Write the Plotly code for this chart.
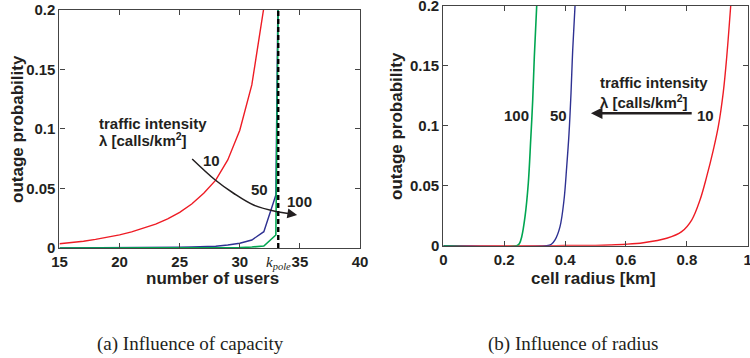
import plotly.graph_objects as go

# ---- (a) outage probability vs. number of users ----
users_red = list(range(15, 33))
out_users_10 = [0.0035, 0.0045, 0.0057, 0.0072, 0.009, 0.011, 0.0135, 0.0165, 0.020,
                0.0245, 0.030, 0.037, 0.046, 0.057, 0.074, 0.099, 0.137, 0.202]
users_50 = list(range(15, 35))
out_users_50 = [0.0, 0.0, 0.0, 0.0, 0.0001, 0.0001, 0.0002, 0.0003, 0.0004, 0.0005,
                0.0006, 0.0008, 0.001, 0.0015, 0.0025, 0.004, 0.0067, 0.0137, 0.0445, 1.0]
users_100 = list(range(15, 35))
out_users_100 = [0.0, 0.0, 0.0, 0.0, 0.0, 0.0, 0.0, 0.0, 0.0, 0.0,
                 0.0, 0.0, 0.0, 0.0, 0.0001, 0.0003, 0.0008, 0.0017, 0.0109, 1.0]
K_POLE = 33.2

# ---- (b) outage probability vs. cell radius ----
radius_10 = [0.0, 0.3, 0.4, 0.5, 0.5476, 0.6, 0.657, 0.734, 0.783, 0.816, 0.8433,
             0.8653, 0.887, 0.9034, 0.9198, 0.931, 0.9442]
out_radius_10 = [0.0, 0.0, 0.0001, 0.0003, 0.0006, 0.0012, 0.0025, 0.0062, 0.0117, 0.0214,
                 0.0381, 0.0576, 0.0798, 0.0993, 0.128, 0.157, 0.2]
radius_50 = [0.0, 0.3397, 0.355, 0.367, 0.3834, 0.3965, 0.4054, 0.413, 0.4195, 0.4251, 0.4327]
out_radius_50 = [0.0, 0.0, 0.0012, 0.0048, 0.0159, 0.0381, 0.0659, 0.0937, 0.127, 0.1633, 0.2]
radius_100 = [0.0, 0.241, 0.25, 0.2576, 0.2684, 0.2792, 0.2871, 0.2937, 0.299, 0.3068]
out_radius_100 = [0.0, 0.0, 0.0018, 0.0075, 0.0242, 0.0521, 0.0882, 0.1216, 0.1577, 0.2]

RED = "#ee1c25"
BLUE = "#2e3192"
GREEN = "#00a651"
INK = "#231f20"
SANS = "Liberation Sans, Arial, sans-serif"
SERIF = "Liberation Serif, Times New Roman, serif"

fig = go.Figure()

# panel (a)
fig.add_trace(go.Scatter(x=users_red, y=out_users_10, mode="lines",
                         line=dict(color=RED, width=1.4), xaxis="x", yaxis="y"))
fig.add_trace(go.Scatter(x=users_50, y=out_users_50, mode="lines",
                         line=dict(color=BLUE, width=1.4), xaxis="x", yaxis="y"))
fig.add_trace(go.Scatter(x=users_100, y=out_users_100, mode="lines",
                         line=dict(color=GREEN, width=1.6), xaxis="x", yaxis="y"))
fig.add_trace(go.Scatter(x=[K_POLE, K_POLE], y=[0, 0.2], mode="lines",
                         line=dict(color="black", width=2.4, dash="5px,3px"),
                         xaxis="x", yaxis="y"))
# curved arrow stem across the three curves
fig.add_trace(go.Scatter(x=[26.04, 27.96, 29.48, 31.15, 33.1],
                         y=[0.0748, 0.0571, 0.046, 0.0361, 0.0305],
                         mode="lines", line=dict(color=INK, width=1.5, shape="spline"),
                         xaxis="x", yaxis="y"))

# panel (b)
fig.add_trace(go.Scatter(x=radius_10, y=out_radius_10, mode="lines",
                         line=dict(color=RED, width=1.4, shape="spline"), xaxis="x2", yaxis="y2"))
fig.add_trace(go.Scatter(x=radius_50, y=out_radius_50, mode="lines",
                         line=dict(color=BLUE, width=1.4, shape="spline"), xaxis="x2", yaxis="y2"))
fig.add_trace(go.Scatter(x=radius_100, y=out_radius_100, mode="lines",
                         line=dict(color=GREEN, width=1.6, shape="spline"), xaxis="x2", yaxis="y2"))

axis_common = dict(
    showline=True, linecolor="#444", linewidth=1.2, mirror="ticks",
    ticks="inside", ticklen=5, tickcolor="#444", tickwidth=1.2,
    showgrid=False, zeroline=False, automargin=False, ticklabeloverflow="allow",
    tickfont=dict(family=SANS, size=15, color=INK, weight="bold"),
)

fig.update_layout(
    width=750, height=358,
    margin=dict(l=0, r=0, t=0, b=0, autoexpand=False),
    paper_bgcolor="white", plot_bgcolor="white",
    showlegend=False,
    xaxis=dict(axis_common, domain=[0.0793, 0.48], range=[15, 40],
               tickvals=[15, 20, 25, 30, 35, 40], anchor="y"),
    yaxis=dict(axis_common, domain=[0.3073, 0.9721], range=[0, 0.2],
               tickvals=[0, 0.05, 0.1, 0.15, 0.2], anchor="x"),
    xaxis2=dict(axis_common, domain=[0.5911, 0.9969], range=[0, 1],
                tickvals=[0, 0.2, 0.4, 0.6, 0.8, 1], anchor="y2"),
    yaxis2=dict(axis_common, domain=[0.3137, 0.9832], range=[0, 0.2],
                tickvals=[0, 0.05, 0.1, 0.15, 0.2], anchor="x2"),
)

bold15 = dict(family=SANS, size=15, color=INK, weight="bold")
title_font = dict(family=SANS, size=17, color=INK, weight="bold")
caption_font = dict(family=SERIF, size=19, color=INK)


def paper_text(px, py, text, font, angle=0):
    """Centered text placed by pixel position on the 750x358 page."""
    return dict(x=px / 750, y=1 - py / 358, xref="paper", yref="paper",
                xanchor="center", yanchor="middle", textangle=angle,
                text=text, font=font, showarrow=False)


ann = [
    # panel (a) labels
    dict(x=18.1, y=0.105, xref="x", yref="y", text="traffic intensity",
         xanchor="left", yanchor="middle", font=bold15, showarrow=False),
    dict(x=18.1, y=0.0908, xref="x", yref="y", text="λ [calls/km<sup>2</sup>]",
         xanchor="left", yanchor="middle", font=bold15, showarrow=False),
    dict(x=27.68, y=0.0731, xref="x", yref="y", text="10",
         font=bold15, showarrow=False),
    dict(x=31.65, y=0.0493, xref="x", yref="y", text="50",
         font=bold15, showarrow=False),
    dict(x=34.98, y=0.039, xref="x", yref="y", text="100",
         font=bold15, showarrow=False),
    dict(x=34.77, y=0.0277, ax=33.1, ay=0.0305, xref="x", yref="y",
         axref="x", ayref="y", text="", showarrow=True,
         arrowhead=2, arrowsize=1.3, arrowwidth=1.5, arrowcolor=INK),
    dict(x=K_POLE, y=0, xref="x", yref="y", yanchor="top", xanchor="center", yshift=-4,
         text="<i>k</i><sub><i>pole</i></sub>",
         font=dict(family=SERIF, size=15, color=INK), showarrow=False),
    # panel (b) labels
    dict(x=0.507, y=0.136, xref="x2", yref="y2", text="traffic intensity",
         xanchor="left", yanchor="middle", font=bold15, showarrow=False),
    dict(x=0.507, y=0.120, xref="x2", yref="y2", text="λ [calls/km<sup>2</sup>]",
         xanchor="left", yanchor="middle", font=bold15, showarrow=False),
    dict(x=0.862, y=0.109, xref="x2", yref="y2", text="10",
         font=bold15, showarrow=False),
    dict(x=0.377, y=0.109, xref="x2", yref="y2", text="50",
         font=bold15, showarrow=False),
    dict(x=0.240, y=0.109, xref="x2", yref="y2", text="100",
         font=bold15, showarrow=False),
    dict(x=0.485, y=0.1105, ax=0.821, ay=0.1105, xref="x2", yref="y2",
         axref="x2", ayref="y2", text="", showarrow=True,
         arrowhead=2, arrowsize=1.0, arrowwidth=2.3, arrowcolor=INK),
    # axis titles
    paper_text(212, 278, "number of users", title_font),
    paper_text(593, 278, "cell radius [km]", title_font),
    paper_text(17, 129, "outage probability", title_font, -90),
    paper_text(396, 126, "outage probability", title_font, -90),
    # captions
    paper_text(190, 343.5, "(a) Influence of capacity", caption_font),
    paper_text(573, 343.5, "(b) Influence of radius", caption_font),
]
fig.update_layout(annotations=ann)

fig.write_html("out.html")
